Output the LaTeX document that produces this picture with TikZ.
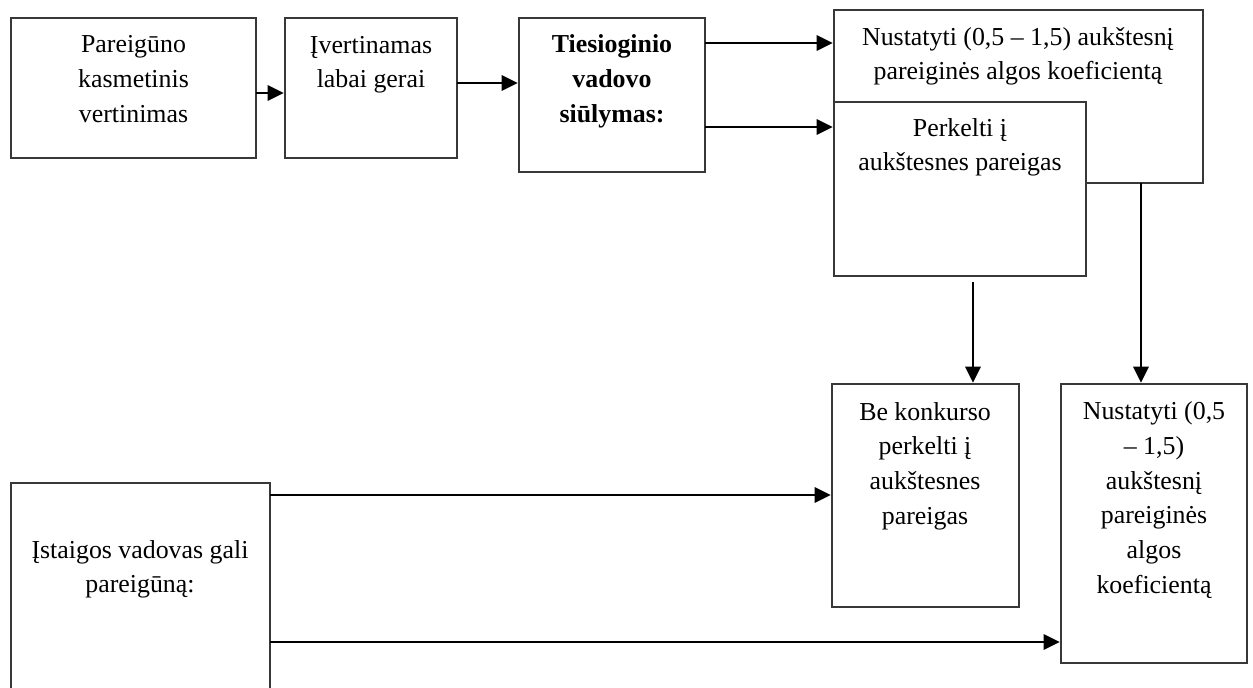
\documentclass[tikz,border=0pt]{standalone}
\usepackage{fontspec}
\setmainfont{Liberation Serif}
\usetikzlibrary{fit,arrows.meta}
\begin{document}
\begin{tikzpicture}[x=0.75pt,y=-0.75pt,
  box/.style={draw=black!78, line width=1.9pt, fill=white, inner sep=0pt},
  txt/.style={align=center, inner sep=0pt, anchor=base, font=\fontsize{19.4}{26}\selectfont},
  arr/.style={draw=black, line width=1.7pt, -{Triangle[length=12pt,width=11.5pt]}}]
\path[use as bounding box, clip] (0,0) rectangle (1253,688);
\fill[white] (0,0) rectangle (1253,688);
% boxes
\node[box, fit={(11,18) (256,158)}] (A) {};
\node[box, fit={(285,18) (457,158)}] (B) {};
\node[box, fit={(519,18) (705,172)}] (C) {};
\node[box, fit={(834,10) (1203,183)}] (D) {};
\node[box, fit={(834,102) (1086,276)}] (E) {};
\node[box, fit={(832,384) (1019,607)}] (F) {};
\node[box, fit={(1061,384) (1247,663)}] (G) {};
\node[box, fit={(11,483) (270,700)}] (H) {};
% texts (anchor base = baseline of last line)
\node[txt] (At) at (133.5,122.3) {Pareigūno\\kasmetinis\\vertinimas};
\node[txt] (Bt) at (371,87.7) {Įvertinamas\\labai gerai};
\node[txt, font=\fontsize{19.4}{26}\selectfont\bfseries] (Ct) at (612,122.3) {Tiesioginio\\vadovo\\siūlymas:};
\node[txt] (Dt) at (1018,79.7) {Nustatyti (0,5 – 1,5) aukštesnį\\pareiginės algos koeficientą};
\node[txt] (Et) at (960,170.7) {Perkelti į\\aukštesnes pareigas};
\node[txt] (Ft) at (925,524) {Be konkurso\\perkelti į\\aukštesnes\\pareigas};
\node[txt] (Gt) at (1154,593.3) {Nustatyti (0,5\\– 1,5)\\aukštesnį\\pareiginės\\algos\\koeficientą};
\node[txt] (Ht) at (140,592.7) {Įstaigos vadovas gali\\pareigūną:};
% connectors
\coordinate (ab) at (256,93);
\draw[arr] (ab) -- (ab -| B.west);
\coordinate (bc) at (457,83);
\draw[arr] (bc) -- (bc -| C.west);
\coordinate (cd) at (705,43);
\draw[arr] (cd) -- (cd -| D.west);
\coordinate (ce) at (705,127);
\draw[arr] (ce) -- (ce -| E.west);
\coordinate (dg) at (1141,183);
\draw[arr] (dg) -- (dg |- G.north);
\coordinate (ef) at (973,282);
\draw[arr] (ef) -- (ef |- F.north);
\coordinate (hf) at (270,495);
\draw[arr] (hf) -- (hf -| F.west);
\coordinate (hg) at (270,642);
\draw[arr] (hg) -- (hg -| G.west);
\end{tikzpicture}
\end{document}
